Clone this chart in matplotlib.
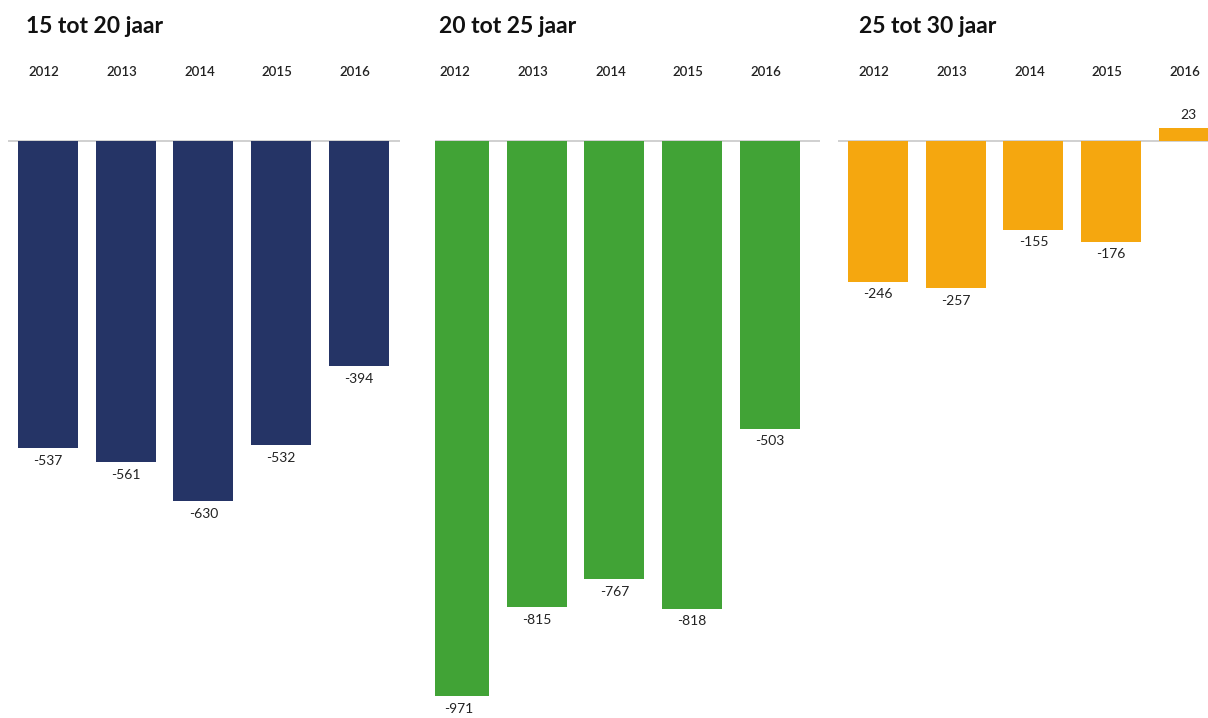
import matplotlib.pyplot as plt

years = ["2012", "2013", "2014", "2015", "2016"]
titles = ["15 tot 20 jaar", "20 tot 25 jaar", "25 tot 30 jaar"]
vals_15_20 = [-537, -561, -630, -532, -394]
vals_20_25 = [-971, -815, -767, -818, -503]
vals_25_30 = [-246, -257, -155, -176, 23]
colors = ["#253466", "#41a336", "#f5a70f"]

W, H = 1208, 718
fig = plt.figure(figsize=(W / 100, H / 100), dpi=100)

# panel extents in pixels: (left, right, x of first bar centre, title x)
panels = [(8, 400, 48, 26), (435, 820, 459, 439), (838, 1208, 878, 859)]
step = 77.7
zero_px = 141
px_per_unit = 555 / 971
ytop = zero_px / px_per_unit
ybot = -(H - zero_px) / px_per_unit

for (left, right, c0, tx), title, vals, col in zip(
        panels, titles, [vals_15_20, vals_20_25, vals_25_30], colors):
    ax = fig.add_axes([left / W, 0, (right - left) / W, 1])
    ax.set_xlim((left - c0) / step, (right - c0) / step)
    ax.set_ylim(ybot, ytop)
    ax.axis("off")
    ax.axhline(0, color="#c8c8c8", lw=1.2, zorder=0)
    x = range(len(vals))
    ax.bar(x, vals, width=60 / step, color=col, zorder=2)
    for i, v in zip(x, vals):
        ax.text(i - 0.05, 120, years[i], ha="center", va="center", fontsize=9.5,
                fontfamily="Lato", fontweight="semibold", color="#222222")
        if v < 0:
            ax.text(i, v - 12, f"-{abs(v)}", ha="center", va="top",
                    fontsize=10, fontfamily="Lato", color="#222222")
        else:
            ax.text(i, v + 12, str(v), ha="center", va="bottom",
                    fontsize=10, fontfamily="Lato", color="#222222")
    ax.text((tx - c0) / step, 200, title, ha="left", va="center",
            fontsize=16.5, fontweight="bold", fontfamily="Lato", color="#111111")

fig.savefig("out.png", dpi=100)
